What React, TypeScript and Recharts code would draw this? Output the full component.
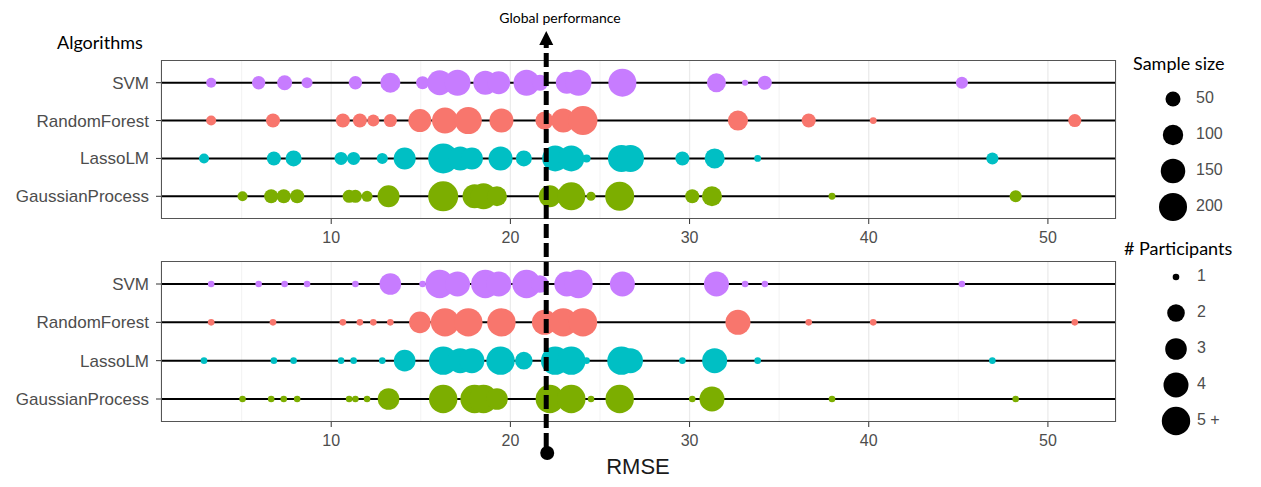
import React from 'react';
import { ScatterChart, Scatter, XAxis, YAxis, CartesianGrid, ReferenceLine } from 'recharts';

// rows, bottom to top
const ALGORITHMS = ['GaussianProcess', 'LassoLM', 'RandomForest', 'SVM'];
const COLORS: Record<string, string> = {
  GaussianProcess: '#7CAE00',
  LassoLM: '#00BFC4',
  RandomForest: '#F8766D',
  SVM: '#C77CFF',
};

const SVM_RMSE = [3.3, 5.95, 7.4, 8.65, 11.35, 13.3, 15.1, 16.05, 17.05, 18.6, 19.35, 20.9, 21.65, 23.15, 23.8, 26.25, 31.5, 33.1, 34.2, 45.2];
const SVM_SAMPLES = [19, 38, 50, 24, 38, 96, 36, 156, 170, 143, 130, 170, 58, 118, 170, 200, 85, 5, 43, 30];
const SVM_PARTICIPANTS = [1, 1, 1, 1, 1, 3, 1, 5, 4, 5, 4, 5, 2, 4, 5, 4, 4, 1, 1, 1];

const RF_RMSE = [3.3, 6.75, 10.65, 11.6, 12.35, 13.3, 14.95, 16.35, 17.65, 19.5, 21.9, 22.95, 24.05, 32.7, 36.65, 40.25, 51.5];
const RF_SAMPLES = [19, 43, 43, 43, 30, 36, 130, 170, 185, 143, 76, 143, 215, 96, 43, 7, 36];
const RF_PARTICIPANTS = [1, 1, 1, 1, 1, 1, 3, 5, 5, 5, 4, 5, 5, 4, 1, 1, 1];

const LASSO_RMSE = [2.9, 6.8, 7.9, 10.55, 11.25, 12.85, 14.1, 16.25, 17.2, 17.85, 19.45, 20.75, 22.5, 23.4, 24.25, 26.2, 26.7, 29.6, 31.4, 33.8, 46.9];
const LASSO_SAMPLES = [19, 43, 58, 36, 36, 24, 118, 232, 143, 118, 143, 58, 170, 170, 11, 185, 185, 43, 96, 7, 30];
const LASSO_PARTICIPANTS = [1, 1, 1, 1, 1, 1, 3, 5, 4, 4, 5, 2, 5, 5, 1, 5, 4, 1, 4, 1, 1];

const GP_RMSE = [5.05, 6.65, 7.35, 8.1, 11.0, 11.35, 12.0, 13.2, 16.25, 18.0, 18.5, 19.25, 22.2, 23.4, 24.5, 26.1, 30.15, 31.25, 37.95, 48.2];
const GP_SAMPLES = [19, 43, 43, 43, 36, 36, 24, 118, 232, 143, 170, 96, 118, 200, 15, 215, 43, 96, 7, 30];
const GP_PARTICIPANTS = [1, 1, 1, 1, 1, 1, 1, 3, 5, 5, 5, 3, 5, 5, 1, 5, 1, 4, 1, 1];

const X_TICKS = [10, 20, 30, 40, 50];
const MINOR_TICKS = [5, 15, 25, 35, 45];
const X_DOMAIN: [number, number] = [0.5, 53.8];
const SAMPLE_LEGEND = [50, 100, 150, 200];
const PARTICIPANT_LEGEND = [1, 2, 3, 4, 5];
const PARTICIPANT_LABELS = ['1', '2', '3', '4', '5 +'];
const GLOBAL_RMSE = 22;

const SERIES = [
  { name: 'GaussianProcess', rmse: GP_RMSE, samples: GP_SAMPLES, participants: GP_PARTICIPANTS },
  { name: 'LassoLM', rmse: LASSO_RMSE, samples: LASSO_SAMPLES, participants: LASSO_PARTICIPANTS },
  { name: 'RandomForest', rmse: RF_RMSE, samples: RF_SAMPLES, participants: RF_PARTICIPANTS },
  { name: 'SVM', rmse: SVM_RMSE, samples: SVM_SAMPLES, participants: SVM_PARTICIPANTS },
];

// size scales
const sampleRadius = (n: number) => 1 + 0.92 * Math.sqrt(n);
const PART_RADIUS: Record<number, number> = { 1: 3.3, 2: 8.8, 3: 10.8, 4: 12.5, 5: 14.2 };
const participantRadius = (n: number) => PART_RADIUS[Math.min(n, 5)];

const W = 1261;
const PLOT_LEFT = 161;
const PLOT_RIGHT = 1116;
const AXIS_FONT = '"Liberation Sans", Arial, sans-serif';
const NOTE_FONT = 'Lato, "Open Sans", sans-serif';

function Panel({ top, height, marginTop, axisHeight, sizeKey, radius }: {
  top: number; height: number; marginTop: number; axisHeight: number;
  sizeKey: 'samples' | 'participants'; radius: (n: number) => number;
}) {
  const plotHeight = height - marginTop - axisHeight;
  return (
    <div style={{ position: 'absolute', left: 0, top, width: W, height }}>
      <ScatterChart width={W} height={height} margin={{ top: marginTop, right: W - PLOT_RIGHT, bottom: 0, left: 0 }}>
        <CartesianGrid horizontal={false} stroke="#ebebeb" strokeWidth={1.3} />
        {MINOR_TICKS.map((t) => (
          <ReferenceLine key={t} x={t} stroke="#f2f2f2" strokeWidth={0.9} />
        ))}
        <XAxis
          type="number"
          dataKey="x"
          domain={X_DOMAIN}
          ticks={X_TICKS}
          allowDataOverflow
          height={axisHeight}
          axisLine={false}
          tickLine={{ stroke: '#333' }}
          tickSize={5}
          tickMargin={8}
          tick={{ fill: '#4d4d4d', fontSize: 16, fontFamily: AXIS_FONT }}
        />
        <YAxis
          type="number"
          dataKey="y"
          domain={[-0.6, 3.6]}
          ticks={[0, 1, 2, 3]}
          width={PLOT_LEFT}
          axisLine={false}
          tickLine={{ stroke: '#333' }}
          tickSize={5}
          tickMargin={7}
          tickFormatter={(v: number) => ALGORITHMS[v]}
          tick={{ fill: '#4d4d4d', fontSize: 17, fontFamily: AXIS_FONT }}
        />
        {SERIES.map((s, row) => (
          <Scatter
            key={s.name}
            name={s.name}
            data={s.rmse.map((x, i) => ({ x, y: row, n: s[sizeKey][i] }))}
            isAnimationActive={false}
            shape={(p: any) => (
              <circle cx={p.cx} cy={p.cy} r={radius(p.payload.n)} fill={COLORS[s.name]} />
            )}
          />
        ))}
        {ALGORITHMS.map((a, row) => (
          <ReferenceLine key={a} y={row} stroke="#000" strokeWidth={2} />
        ))}
      </ScatterChart>
      <div
        style={{
          position: 'absolute', left: PLOT_LEFT, top: marginTop, width: PLOT_RIGHT - PLOT_LEFT,
          height: plotHeight, border: '1px solid #555', boxSizing: 'border-box', pointerEvents: 'none',
        }}
      />
    </div>
  );
}

export default function App() {
  const gx = PLOT_LEFT + ((GLOBAL_RMSE - X_DOMAIN[0]) / (X_DOMAIN[1] - X_DOMAIN[0])) * (PLOT_RIGHT - PLOT_LEFT);
  return (
    <div style={{ position: 'absolute', left: 0, top: 0, width: W, height: 487, background: '#fff', fontFamily: AXIS_FONT }}>
      <Panel top={0} height={250} marginTop={60} axisHeight={31} sizeKey="samples" radius={sampleRadius} />
      <Panel top={240} height={247} marginTop={21} axisHeight={65} sizeKey="participants" radius={participantRadius} />
      <svg width={W} height={487} style={{ position: 'absolute', left: 0, top: 0, pointerEvents: 'none' }}>
        {/* global performance arrow */}
        <line x1={gx} y1={447} x2={gx} y2={44} stroke="#000" strokeWidth={5} strokeDasharray="14 5" />
        <polygon points={`${gx - 7},45 ${gx + 7},45 ${gx},31`} fill="#000" />
        <circle cx={gx + 1} cy={453} r={7} fill="#000" />
        <text x={560} y={19} fontSize={14} fontFamily={NOTE_FONT} textAnchor="middle" dominantBaseline="middle" fill="#000">
          Global performance
        </text>
        <text x={57} y={44} fontSize={18} fontFamily={NOTE_FONT} dominantBaseline="middle" fill="#000">
          Algorithms
        </text>
        <text x={638} y={468} fontSize={22} fontFamily={AXIS_FONT} textAnchor="middle" dominantBaseline="middle" fill="#1a1a1a">
          RMSE
        </text>

        {/* sample size legend */}
        <text x={1133} y={65} fontSize={18} fontFamily={NOTE_FONT} dominantBaseline="middle" fill="#000">
          Sample size
        </text>
        {SAMPLE_LEGEND.map((v, i) => (
          <g key={v}>
            <circle cx={1173} cy={99 + i * 36} r={sampleRadius(v)} fill="#000" />
            <text x={1196} y={99 + i * 36} fontSize={16} fill="#4d4d4d" dominantBaseline="middle">{v}</text>
          </g>
        ))}

        {/* participants legend */}
        <text x={1124} y={250} fontSize={18} fontFamily={NOTE_FONT} dominantBaseline="middle" fill="#000">
          # Participants
        </text>
        {PARTICIPANT_LEGEND.map((v, i) => (
          <g key={v}>
            <circle cx={1176} cy={277 + i * 36} r={participantRadius(v)} fill="#000" />
            <text x={1197} y={277 + i * 36} fontSize={16} fill="#4d4d4d" dominantBaseline="middle">{PARTICIPANT_LABELS[i]}</text>
          </g>
        ))}
      </svg>
    </div>
  );
}
